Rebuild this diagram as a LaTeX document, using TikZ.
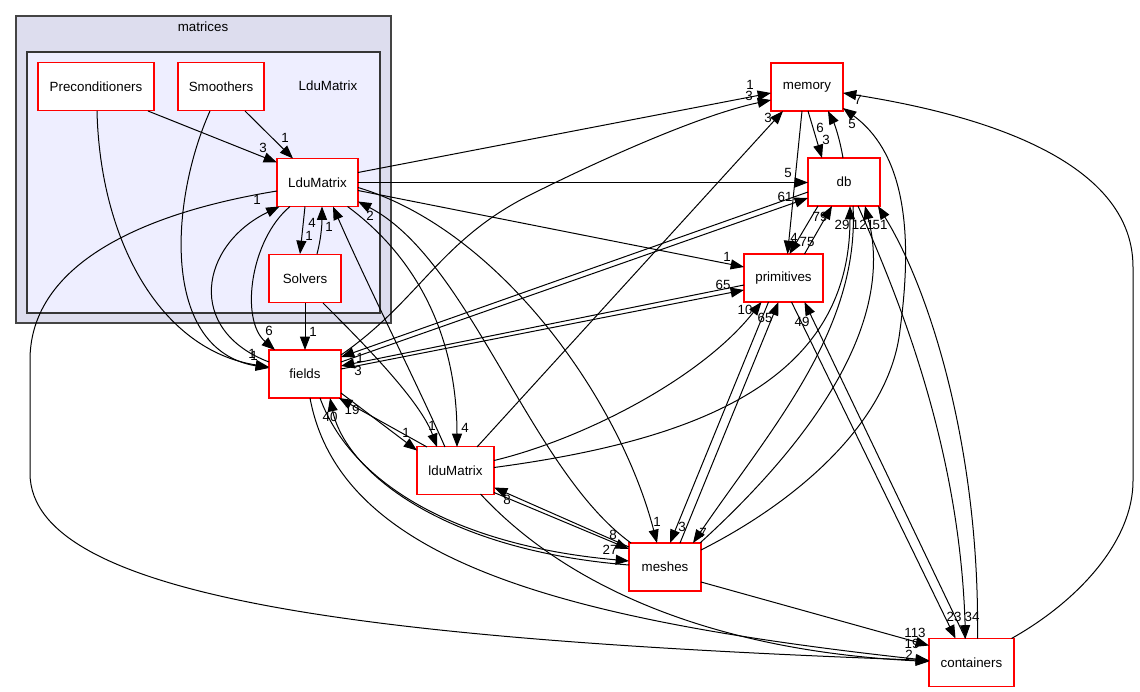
\documentclass[tikz,border=0pt]{standalone}
\usepackage{fontspec}
\setmainfont{Liberation Sans}
\usetikzlibrary{arrows.meta,calc}
\definecolor{clusterOuter}{HTML}{DDDDEE}
\definecolor{clusterInner}{HTML}{EEEEFF}
\definecolor{clusterLine}{HTML}{444444}

\begin{document}
\begin{tikzpicture}[
    x=0.75pt, y=-0.75pt,
    font=\fontsize{10}{12}\selectfont,
    dirnode/.style={rectangle, draw=red, line width=0.9pt, fill=white, minimum height=36pt, inner sep=2pt},
    dep/.style={draw=black, line width=0.75pt, -{Triangle[length=10pt,width=7.5pt]}},
    num/.style={inner sep=0pt}
]
    \fill[white] (0,0) rectangle (1140,692);
    \useasboundingbox (0,0) rectangle (1140,692);

    % clusters
    \draw[fill=clusterOuter, draw=clusterLine, line width=1.3pt] (16,16) rectangle (391,323);
    \draw[fill=clusterInner, draw=clusterLine!80!black, line width=1pt] (27,52) rectangle (380,313);
    \node (matricesLbl) at (203,27) {matrices};
    \node (lduLbl) at (328,86) {LduMatrix};

    % directories
    \node[dirnode, minimum width=87pt] (prec) at (96,86.5) {Preconditioners};
    \node[dirnode, minimum width=64.5pt] (smooth) at (221,86.5) {Smoothers};
    \node[dirnode, minimum width=60.75pt] (ldu) at (317.5,182.5) {LduMatrix};
    \node[dirnode, minimum width=54pt] (solv) at (305,278.5) {Solvers};
    \node[dirnode, minimum width=54pt] (fields) at (305,374) {fields};
    \node[dirnode, minimum width=54pt] (memory) at (807,87) {memory};
    \node[dirnode, minimum width=54pt] (db) at (844,182) {db};
    \node[dirnode, minimum width=59.25pt] (prim) at (783.5,278) {primitives};
    \node[dirnode, minimum width=57.75pt] (lduLow) at (455.5,470.5) {lduMatrix};
    \node[dirnode, minimum width=54pt] (meshes) at (665,567) {meshes};
    \node[dirnode, minimum width=63.75pt] (cont) at (971.5,662.5) {containers};

    % inside matrices
    \draw[dep] ($(prec)+(52,24.5)$) -- ($(ldu)+(-40.5,-20)$);
    \draw[dep] ($(smooth)+(24,24.5)$) -- ($(ldu)+(-24.5,-24)$);
    \draw[dep] ($(prec)+(1,24.5)$) .. controls (100,240) and (160,350) .. ($(fields)+(-36,-7)$);
    \draw[dep] ($(smooth)+(-11,24.5)$) .. controls (170,200) and (160,350) .. ($(fields)+(-36,-6)$);
    \draw[dep] ($(fields)+(-36,-12)$) .. controls (185,330) and (200,245) .. ($(ldu)+(-38,24)$);
    \draw[dep] ($(ldu)+(-27.5,24)$) .. controls (250,240) and (240,320) .. ($(fields)+(-30,-24)$);
    \draw[dep] ($(ldu)+(-12.5,24)$) -- ($(solv)+(-5,-24.5)$);
    \draw[dep] ($(solv)+(12,-24.5)$) .. controls (322,235) and (322,220) .. ($(ldu)+(4.5,24)$);
    \draw[dep] ($(solv)+(0,24.5)$) -- ($(fields)+(0,-24)$);
    \draw[dep] ($(solv)+(18,24.5)$) .. controls (360,340) and (420,400) .. ($(lduLow)+(-18.5,-23.5)$);

    % LduMatrix out
    \draw[dep] ($(ldu)+(30,24)$) .. controls (420,260) and (457,340) .. ($(lduLow)+(1.5,-23.5)$);
    \draw[dep] ($(lduLow)+(-10.5,-23.5)$) .. controls (420,390) and (365,280) .. ($(ldu)+(15.5,24)$);
    \draw[dep] ($(meshes)+(-34,-24)$) .. controls (530,470) and (470,260) .. ($(ldu)+(40.5,19)$);
    \draw[dep] ($(ldu)+(40.5,5)$) .. controls (500,230) and (620,400) .. ($(meshes)+(-8,-24)$);
    \draw[dep] ($(ldu)+(40.5,-10)$) -- ($(memory)+(-36,6)$);
    \draw[dep] ($(ldu)+(40.5,0)$) -- ($(db)+(-36,0.5)$);
    \draw[dep] ($(ldu)+(40.5,8)$) -- ($(prim)+(-39.5,-11)$);
    \draw[dep] ($(ldu)+(-40.5,8.5)$) .. controls (130,215) and (30,270) .. (30,360) -- (30,473)
        .. controls (30,600) and (380,640) .. ($(cont)+(-42.5,-2)$);

    % fields out
    \draw[dep] ($(fields)+(36,-19)$) .. controls (420,300) and (440,240) .. (530,195)
        .. controls (600,160) and (700,115) .. ($(memory)+(-36,13)$);
    \draw[dep] ($(fields)+(36,-12)$) -- ($(db)+(-36,16)$);
    \draw[dep] ($(db)+(-36,10)$) -- ($(fields)+(36,-17)$);
    \draw[dep] ($(fields)+(36,-5)$) -- ($(prim)+(-39.5,12)$);
    \draw[dep] ($(prim)+(-39.5,7)$) -- ($(fields)+(36,-8)$);
    \draw[dep] ($(fields)+(36,19)$) -- ($(lduLow)+(-38.5,-20)$);
    \draw[dep] ($(lduLow)+(-28.5,-23.5)$) -- ($(fields)+(34,24)$);
    \draw[dep] ($(fields)+(15,24)$) .. controls (350,480) and (450,545) .. ($(meshes)+(-36,-6)$);
    \draw[dep] ($(meshes)+(-36,-2)$) .. controls (440,550) and (345,470) .. ($(fields)+(25,24)$);
    \draw[dep] ($(fields)+(5,24)$) .. controls (340,560) and (560,620) .. ($(cont)+(-42.5,-2)$);

    % lduMatrix out
    \draw[dep] ($(lduLow)+(25,23.5)$) .. controls (560,580) and (700,650) .. ($(cont)+(-42.5,-1)$);
    \draw[dep] ($(meshes)+(-36,-20)$) -- ($(lduLow)+(38.5,17)$);
    \draw[dep] ($(lduLow)+(38.5,22)$) -- ($(meshes)+(-36,-18)$);
    \draw[dep] ($(lduLow)+(21.5,-23.5)$) -- ($(memory)+(-24,24)$);
    \draw[dep] ($(lduLow)+(38.5,-10)$) .. controls (580,440) and (700,380) .. ($(prim)+(-22,24)$);
    \draw[dep] ($(lduLow)+(38.5,-3)$) .. controls (700,440) and (850,380) .. ($(db)+(6,24)$);

    % meshes out
    \draw[dep] ($(meshes)+(15,-24)$) -- ($(prim)+(-5,24)$);
    \draw[dep] ($(prim)+(-15,24)$) -- ($(meshes)+(5,-24)$);
    \draw[dep] ($(db)+(9,24)$) .. controls (860,330) and (770,430) .. ($(meshes)+(28,-24)$);
    \draw[dep] ($(meshes)+(35,-24)$) .. controls (780,470) and (900,340) .. ($(db)+(21,24)$);
    \draw[dep] ($(meshes)+(36,-17)$) .. controls (800,500) and (890,420) .. (900,330)
        .. controls (915,220) and (900,150) .. ($(memory)+(36,21)$);
    \draw[dep] ($(meshes)+(36,15)$) -- ($(cont)+(-42.5,-17)$);

    % memory, db, primitives
    \draw[dep] ($(memory)+(1,24)$) -- ($(db)+(-22,-24)$);
    \draw[dep] ($(db)+(-1,-24)$) .. controls (840,140) and (835,125) .. ($(memory)+(21,24)$);
    \draw[dep] ($(memory)+(-5,24)$) -- ($(prim)+(4,-24)$);
    \draw[dep] ($(db)+(-26,24)$) -- ($(prim)+(6,-24)$);
    \draw[dep] ($(prim)+(21,-24)$) -- ($(db)+(-12,24)$);

    % containers
    \draw[dep] ($(prim)+(8,24)$) -- ($(cont)+(-16,-24)$);
    \draw[dep] ($(cont)+(-6,-24)$) -- ($(prim)+(21,24)$);
    \draw[dep] ($(db)+(14,24)$) .. controls (900,300) and (960,450) .. ($(cont)+(-6,-24)$);
    \draw[dep] ($(cont)+(6,-24)$) .. controls (980,450) and (930,290) .. ($(db)+(34,24)$);
    \draw[dep] ($(cont)+(40,-24)$) .. controls (1080,600) and (1133,540) .. (1133,481) -- (1133,267)
        .. controls (1133,150) and (950,110) .. ($(memory)+(36,6)$);

    % edge counts
    \foreach \t/\x/\y [count=\k] in {
        3/263/148, 1/285/138, 1/257/200, 6/269/331, 4/312/223, 1/309/236, 1/329/227,
        2/370/216, 1/313/332, 1/252/354, 1/254/356, 1/360/358, 3/358/371,
        1/432/426, 4/465/428, 1/406/433, 19/352/410, 40/330/417,
        27/610/550, 8/613/535, 8/507/500, 1/657/522, 3/682/527, 7/703/533,
        1/750/85, 3/749/96, 3/768/118, 6/820/128, 3/826/140, 5/852/124, 7/858/100,
        5/788/173, 61/785/197, 79/820/217, 29/842/225, 121/863/225, 51/880/225,
        1/727/257, 65/723/285, 4/794/238, 75/807/242, 10/745/310, 65/765/318, 49/802/322,
        23/954/617, 34/972/617, 113/915/633, 19/912/644, 2/909/655} {
        \node[num] (cnt\k) at (\x,\y) {\t};
    }
\end{tikzpicture}
\end{document}
